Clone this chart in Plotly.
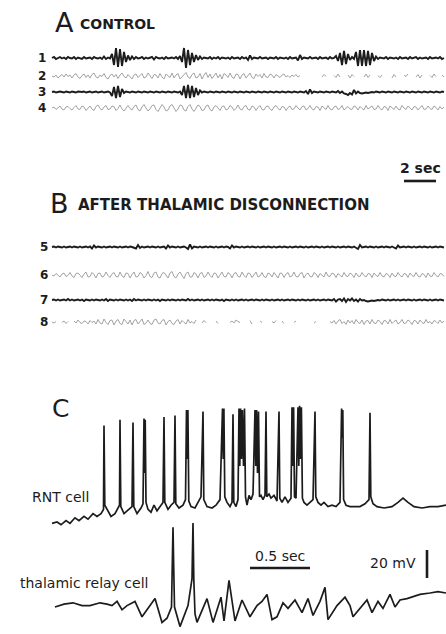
import plotly.graph_objects as go

# ---------------------------------------------------------------------------
# DATA
# ---------------------------------------------------------------------------
# Panels A and B: EEG channels, microvolts, sampled at FS_EEG
FS_EEG = 8.0

EEG_1 = [0, 10, -10, 0, 10, -5, 5, -10, 10, 0, -5, 10, -10, 5, 0, -10, 10, -5, 0, 5,
         -10, 10, 0, -5, 5, -10, 15, -10, 5, -5,
         40, -70, 100, -90, 90, -80, 60, -40, 25,
         -20, 15, -10, 10, -5, 0, 10, -10, 5, -5, 0, 10, -15, 10, 0, -5, 5, -10, 10, -5,
         0, 5, -5, 10, -10, 20,
         -40, 100, -100, 80, -70, 50, -40, 30,
         -20, 15, -10, 5, 0, -5, 10, -10, 5, -5, 10, -10, 5, 0, -5, 5, -10, 10, -5, 0,
         5, -10, 10, -5, 5, -20, 25, -10, 5, 0, -5, 10, -5, 0, 5, -10, 5, 0, -5, 10,
         -10, 5, 0, -5, 5, -10, 10, -5, 0, 5, -25, 30, -10, 5, 0, -5, 10, -5, 0, 5,
         -10, 10, -5, 0, 5, -10, 10, -5, 0, 20, -30,
         50, -70, 70, -60, 40, -20,
         10, -10,
         60, -80, 80, -80, 80, -80, 70, -70, 50, -30,
         15, -10, 5, 0, -5, 10, -10, 5, 0, -5, 5, -10, 10, -5, 0, 5, -10, 10, -5, 0,
         10, -10, 5, -5, 0, 5, -10, 10, -5, 0, 5, -5, 10, -10, 0]

EEG_2 = [0, -10, 10, -20, 0, 15, -10, 20, -5, 10,
         -20, 10, 25, -10, -25, 5, 20, -15, 10, -20,
         15, 30, -10, -20, 10, -5, 25, -15, -30, 5,
         20, -10, 15, -25, 10, 30, -5, -20, 15, -10,
         -30, 10, 20, -15, 5, 25, -20, -10, 30, -5,
         -25, 15, 10, -20, 25, -10, -30, 20, 5, -15,
         30, -20, 10, 25, -30, -5, 20, 35, -10, -25,
         15, 30, -20, -10, 25, -30, 10, 35, -15, 20,
         -25, 5, 30, -20, 15, -30, 25, 10, -15, 30,
         -10, -25, 20, 15, -30, 10, 25, -20, 5, 30,
         -15, -25, 20, -5, 15, -20, 25, -10, -15, 20,
         10, -20, 15, -5, -15, 10, 20, -10, 5, -15,
         10, -5, 15, -10, 5, None, None, None, None, None,
         None, None, None, None, None, -10, 15, -5, None, None,
         None, 5, -15, 20, -10, None, None, None, 10, -20,
         15, -5, None, None, None, None, -10, 20, -15, 10,
         None, None, None, 5, -15, 10, None, None, None, None,
         -20, 15, -10, None, None, None, 10, -5, 20, None,
         None, None, -10, 15, -20, 10, None, None, None, 5,
         -15, 20, -5, None, None, 10, -10]

EEG_3 = [0, 5, -5, 0, 5, 0, -5, 5, 0, -5, 5, 0, -5, 5, 0, 0, 5, -5, 0, 5,
         -5, 0, 5, -5, 0, 5, -5, 0, 5, -5,
         -40, 50, -60, 60, -50, 30,
         -10, 5, 0, -5, 5, 0, -5, 5, 0, -5, 5, 0, -5, 5, 0, -5, 5, 0, -5, 5,
         0, -5, 5, 0, -5, 5, 0, -5, 5,
         -30, 60, -60, 70, -60, 60, -50, 40, -30, 15,
         -5, 5, 0, -5, 5, 0, -5, 5, 0, -5,
         5, 0, -5, 5, 0, -5, 5, 0, -5, 5,
         0, -5, 5, 0, -5, 5, 0, -5, 5, 0,
         -5, 5, 0, -5, 5, 0, -5, 5, 0, -5,
         5, 0, -5, 5, 0, -5, 5, 0, -5, 5,
         0, -5, 10, -20, 25, -10, 5, 0, -5, 5,
         0, -5, 5, 0, -5, 5, 0, -5, 10, -10,
         5, -15, -20, -30, -10, -25, 20, -15, 5, -10,
         -15, -10, -5, -10, -5, 0, -5, 5, 0, -5,
         5, 0, -5, 5, 0, -5, 5, 0, -5, 5,
         0, -5, 5, 0, -5, 5, 0, -5, 5, 0,
         -5, 5, 0, -5, 5, 0, -5, 5, 0, -5,
         5, 0]

EEG_4 = [0, 10, -15, 5, 20, -10, -20, 10, 15, -5,
         -20, 5, 25, -10, -15, 20, 10, -25, 0, 20,
         -10, -25, 15, 30, -5, -20, 10, 25, -15, -10,
         20, 15, -25, -5, 30, -10, -30, 5, 25, -5,
         -20, 15, 30, -15, -30, 10, 35, 0, -30, -10,
         25, 30, -15, -35, 5, 35, 10, -30, -20, 20,
         35, -5, -35, -10, 30, 25, -20, -30, 15, 35,
         -10, -35, 5, 30, 15, -25, -20, 20, 30, -15,
         -30, 10, 25, -5, -25, 15, 20, -20, -10, 25,
         10, -25, -5, 30, -10, -20, 15, 25, -15, -20,
         20, 10, -25, 5, 25, -15, -20, 15, 20, -10,
         -25, 10, 25, -5, -20, 15, 10, -25, 5, 20,
         -15, -10, 25, 0, -20, 15, 20, -20, -5, 25,
         -10, -20, 15, 10, -25, 20, 5, -15, 25, -10,
         -20, 10, 20, -15, -5, 25, -20, 0, 15, -10,
         -15, 20, 10, -20, 15, -5, -20, 25, -10, 5,
         20, -15, -10, 25, -5, -20, 15, 10, -25, 20,
         5, -15, 20, -10, -20, 25, 0, -15, 20, -5,
         -20, 15, 10, -20, 5, 25, -15, -10, 20, -5,
         -15, 20, 5, -20, 15, -10, 10]

EEG_5 = [0, 5, -5, 5, 0, -5, 5, -5, 0, 5,
         -5, 5, 0, -5, 5, -5, 0, 5, -5, 5,
         -15, 15, -5, 5, 0, -5, 5, -5, 0, 5,
         -5, 5, 0, -5, 5, -5, 0, 5, -5, 5,
         0, -5, -15, 20, -10, 5, -5, 0, 5, -5,
         5, 0, -5, 5, -5, 0, 5, -15, 15, -5,
         5, 0, -5, 5, -5, 0, 5, -5, -20, 25,
         -15, 5, 0, -5, 5, -5, 0, 5, -5, 5,
         0, -5, 5, -5, 0, 5, -5, 5, 0, -15,
         15, -5, 5, 0, -5, 5, -5, 0, 5, -5,
         5, 0, -5, 5, -5, 0, 5, -5, 5, 0,
         -5, 5, -5, 0, 5, -5, 5, 0, -5, 5,
         -5, 0, 5, -5, 5, 0, -5, 5, -5, 0,
         5, -5, 5, 0, -5, 5, -5, 0, 5, -5,
         5, 0, -5, 5, -5, 0, 5, -5, 5, 0,
         -5, 5, -5, -20, 20, -5, 0, 5, -5, 5,
         0, -5, 5, -5, 0, 5, -5, 5, 0, -5,
         5, -5, -15, 15, -5, 0, 5, -5, 5, 0,
         -5, 5, -5, 0, 5, -5, 5, 0, -5, 5,
         -5, 0, 5, -5, 5, 0, -5]

EEG_6 = [0, -10, 15, -5, -20, 10, 20, -15, -5, 25,
         -10, -25, 15, 20, -5, -25, 10, 30, -20, -15,
         25, 5, -30, 15, 20, -20, -10, 30, -5, -25,
         10, 25, -15, -20, 30, -10, -25, 20, 15, -30,
         5, 30, -20, -15, 25, 10, -30, -5, 35, -15,
         -25, 20, 30, -20, -30, 15, 25, -10, -30, 20,
         35, -15, -30, 10, 30, -5, -35, 15, 30, -20,
         -20, 25, 10, -30, 15, 25, -25, -10, 30, -5,
         -25, 20, 15, -30, 5, 30, -15, -20, 25, 10,
         -30, 15, 25, -15, -20, 30, -5, -25, 20, 15,
         -25, 10, 30, -20, -10, 25, -15, -25, 20, 10,
         -20, 25, -5, -30, 20, 15, -25, 10, 25, -20,
         -10, 30, -15, -20, 15, 25, -30, 5, 20, -15,
         -20, 25, 10, -25, 15, -5, -20, 30, -10, -15,
         20, 10, -25, 15, -5, -20, 25, -10, -15, 20,
         5, -25, 20, -10, -15, 25, -5, -20, 15, 10,
         -25, 20, -5, -15, 25, -10, -20, 15, 5, -25,
         20, -10, -15, 25, -5, -20, 15, 10, -25, 20,
         -5, -15, 25, -10, -20, 15, 5, -25, 20, -10,
         -15, 25, -5, -20, 15, 10, -15]

EEG_7 = [0, 5, -5, 5, -5, 0, 5, -5, 10, -5,
         5, -5, 0, 5, -5, 5, -10, 5, 0, -5,
         5, -5, 5, 0, -5, 5, -5, 10, -10, 5,
         0, -5, 5, -5, 5, 0, -5, 5, -5, 5,
         -10, 10, -5, 5, 0, -5, 5, -5, 5, 0,
         -5, 5, -5, 5, -10, 5, 0, -5, 5, -5,
         5, 0, -5, 5, -5, 5, 0, -5, 10, -5,
         5, -5, 0, 5, -5, 5, -5, 0, 5, -5,
         5, -5, 5, 0, -5, 5, -10, 5, 0, -5,
         5, -5, 5, -5, 0, 5, -5, 5, -5, 0,
         5, -5, 5, 0, -5, 5, -5, 5, 0, -5,
         5, -5, 0, 5, -5, 5, -5, 0, 5, -5,
         5, 0, -5, 5, -5, 5, 0, -5, 5, -5,
         0, 5, -5, 5, -5, 0, 5, -5, 5, 0,
         -5, 10, -15, 5, 10, -10, 15, -20, 10, -5,
         15, -10, 5, -15, 10, -5, 0, -10, -15, -10,
         -5, -10, -5, 0, -5, 5, 0, -5, 5, -5,
         0, 5, -5, 5, -5, 0, 5, -5, 5, 0,
         -5, 5, -5, 0, 5, -5, 5, 0, -5, 5,
         -5, 0, 5, -5, 5, 0, -5]

EEG_8 = [0, -10, 5, None, None, -5, 10, -15, 5, None,
         None, 10, -10, 20, -5, -15, 10, 5, -20, 15,
         -5, 10, -20, 25, -10, -20, 30, -5, -25, 15,
         20, -30, 10, 25, -15, -25, 30, 5, -20, 20,
         -30, 15, 25, -20, 10, 30, -25, -10, 20, -15,
         -25, 20, 30, -10, -20, 15, 25, -30, 5, 20,
         -15, -25, 10, 25, -20, 15, -5, -20, 25, -10,
         5, -15, 20, None, None, -10, 15, -5, None, None,
         None, None, 10, -15, None, None, None, None, None, -5,
         10, -10, 20, 5, -5, None, None, None, None, 15,
         -20, None, None, None, 10, -5, None, None, None, None,
         5, -10, 15, None, None, 10, -15, None, None, None,
         None, -5, 10, None, None, None, None, None, None, None,
         None, -10, 5, None, None, None, None, None, None, 5,
         -10, 15, -20, 10, 25, -15, 5, -25, 20, -10,
         15, -20, 25, -5, -15, 20, -25, 10, 15, -20,
         25, -10, -15, 20, 5, -25, 15, 10, -20, 25,
         -15, 5, 20, -20, -5, 25, -15, -10, 20, 5,
         -25, 15, 10, -20, 20, -5, -15, 25, -10, 5,
         -20, 15, 5, -15, 20, -10, 10]

CHANNEL_LABELS = ["1", "2", "3", "4", "5", "6", "7", "8"]
CHANNEL_DATA = [EEG_1, EEG_2, EEG_3, EEG_4, EEG_5, EEG_6, EEG_7, EEG_8]
CHANNEL_KIND = ["dark", "gray", "dark", "gray", "dark", "gray", "dark", "gray"]

# Panel C: intracellular recordings, digitised at FS_CELL samples / s
FS_CELL = 120.0

RNT_SAMPLE = [0, 5, 9, 14, 18, 23, 27, 32, 36, 41, 45, 49, 51.5,
              52, 52.8, 55, 59, 63, 66, 67.5,
              68, 68.8, 72, 77, 80,
              81, 81.8, 85, 89, 91,
              92, 92.6, 93.2, 94, 96, 99, 102, 105, 108, 111,
              112, 112.8, 116, 119, 122,
              123, 123.8, 127, 131, 133.5,
              134.5, 135.2, 135.9, 136.8, 139, 143, 146, 149,
              151, 151.8, 155, 160, 164, 168,
              170.5, 171.2, 171.9, 172.8, 175, 178, 180,
              181, 181.8, 184, 186,
              187, 187.8, 188.6, 189.5, 190.4, 191.5, 192.5, 193.5,
              195, 197, 199, 201,
              203, 203.8, 204.6, 205.5, 206.5, 207.5,
              209, 211, 213,
              214, 214.8, 217, 219, 222, 225,
              227, 227.8, 230, 233, 236, 239,
              240, 240.8, 241.6, 242.5, 244,
              246, 246.8, 247.6, 248.5, 249.4, 250.4,
              252, 255, 258, 261,
              263, 263.8, 266, 269, 272, 276, 280, 284, 288,
              289.6, 290.2, 290.8, 291.6, 294, 298, 303, 308, 313, 317,
              318, 318.8, 321, 325, 332, 340, 346, 351, 356, 362, 370, 378, 386, 394]

RNT_MV = [-81, -80, -82, -79, -81, -77, -79, -76, -78, -74, -76, -74, -71,
          -11, -68, -71, -76, -74, -70, -68,
          -7, -69, -74, -71, -69,
          -9, -69, -74, -70, -67,
          -6, -45, -7, -66, -71, -73, -68, -72, -69, -66,
          -5, -66, -71, -68, -66,
          -4, -67, -70, -68, -64,
          0, -35, 0, -65, -69, -70, -66, -62,
          -1, -64, -69, -70, -68, -64,
          1, -35, 1, -62, -66, -69, -66,
          -3, -66, -69, -64,
          1, -40, 1, -35, 0, -40, 1, -62,
          -68, -61, -64, -60,
          0, -40, 0, -45, -1, -62,
          -61, -64, -61,
          -1, -62, -60, -63, -61, -65,
          -1, -63, -66, -62, -66, -63,
          2, -40, 2, -62, -63,
          2, -40, 3, -35, 2, -63,
          -66, -68, -66, -64,
          -1, -62, -66, -68, -66, -69, -68, -69, -66,
          1, -20, 0, -64, -68, -69, -69, -69, -67, -64,
          -2, -62, -67, -69, -70, -69, -66, -63, -66, -69, -70, -69, -69, -68]

RELAY_SAMPLE = [3, 12, 21, 30, 38, 48, 55, 60, 65, 70, 75, 83, 90, 103, 110, 115,
                119.5, 120.5, 121, 121.8, 122.5, 128, 133, 136, 140, 141, 141.8, 143,
                145, 151, 155, 161, 169, 172, 177, 183, 190, 198, 205, 210, 215, 220,
                225, 231, 236, 243, 250, 256, 261, 268, 273, 276, 285, 293, 298, 301,
                310, 315, 320, 326, 331, 338, 343, 348, 355, 360, 368, 378, 386, 394]

RELAY_MV = [-70, -68, -67, -69, -69, -67, -68, -69, -66, -72, -69, -66, -77, -64, -81, -78,
            -70, -40, -13, -45, -70, -84, -75, -69, -50, -10, -50, -75,
            -81, -71, -64, -81, -63, -80, -51, -80, -65, -77, -69, -66, -61, -79,
            -77, -67, -71, -65, -74, -64, -76, -66, -56, -79, -69, -63, -69, -77,
            -69, -65, -74, -66, -71, -61, -70, -65, -64, -63, -61, -60, -59, -60]

SCALE_EEG_SEC = 2.0
SCALE_CELL_SEC = 0.5
SCALE_CELL_MV = 20.0

# ---------------------------------------------------------------------------
# LAYOUT CONSTANTS (page pixels)
# ---------------------------------------------------------------------------
W, H = 446, 634
X0 = 52                      # left edge of every trace
EEG_PX_PER_S = 16.0
CELL_PX_PER_S = 120.0
UV_PER_PX = 10.0
PX_PER_MV = 1.4
ROW_Y = [58, 76, 92, 108, 247, 275, 300, 322]
RNT_ANCHOR = (522, -80)      # page y of a reference potential
RELAY_ANCHOR = (607, -70)

INK = "#1c1c1c"
GRAY = "#a2a2a2"
FONT = "DejaVu Sans"


def px(x):
    return x / W


def py(y):
    return 1 - y / H


fig = go.Figure()

# EEG traces (panels A, B)
for label, vals, kind, row in zip(CHANNEL_LABELS, CHANNEL_DATA, CHANNEL_KIND, ROW_Y):
    t = [i / FS_EEG for i in range(len(vals))]
    y = [None if v is None else row - v / UV_PER_PX for v in vals]
    fig.add_trace(go.Scatter(
        x=t, y=y, mode="lines", xaxis="x", yaxis="y",
        line=dict(color=INK if kind == "dark" else GRAY,
                  width=1.9 if kind == "dark" else 1.0),
        hoverinfo="skip", showlegend=False, connectgaps=False))


# Intracellular traces (panel C)
def mv_to_page(vals, anchor):
    y0, v0 = anchor
    return [y0 - (v - v0) * PX_PER_MV for v in vals]


fig.add_trace(go.Scatter(
    x=[s / FS_CELL for s in RNT_SAMPLE], y=mv_to_page(RNT_MV, RNT_ANCHOR),
    mode="lines", xaxis="x2", yaxis="y",
    line=dict(color=INK, width=1.7), hoverinfo="skip", showlegend=False))
fig.add_trace(go.Scatter(
    x=[s / FS_CELL for s in RELAY_SAMPLE], y=mv_to_page(RELAY_MV, RELAY_ANCHOR),
    mode="lines", xaxis="x2", yaxis="y",
    line=dict(color=INK, width=1.7), hoverinfo="skip", showlegend=False))

# Scale bars
eeg_bar_end = 24.0
fig.add_trace(go.Scatter(
    x=[eeg_bar_end - SCALE_EEG_SEC, eeg_bar_end], y=[181, 181], mode="lines",
    xaxis="x", yaxis="y", line=dict(color=INK, width=2.6),
    hoverinfo="skip", showlegend=False))
cell_bar_start = (250 - X0) / CELL_PX_PER_S
fig.add_trace(go.Scatter(
    x=[cell_bar_start, cell_bar_start + SCALE_CELL_SEC], y=[568, 568], mode="lines",
    xaxis="x2", yaxis="y", line=dict(color=INK, width=2.4),
    hoverinfo="skip", showlegend=False))
mv_bar_t = (427 - X0) / CELL_PX_PER_S
fig.add_trace(go.Scatter(
    x=[mv_bar_t, mv_bar_t], y=[578, 578 - SCALE_CELL_MV * PX_PER_MV], mode="lines",
    xaxis="x2", yaxis="y", line=dict(color=INK, width=2.6),
    hoverinfo="skip", showlegend=False))

# Text
ann = []


def text(s, x, y, size, xanchor="left", bold=False, color=INK):
    ann.append(dict(text=s, x=px(x), y=py(y), xref="paper", yref="paper",
                    xanchor=xanchor, yanchor="middle", showarrow=False,
                    font=dict(family=FONT, size=size, color=color,
                              weight="bold" if bold else "normal")))


text("A", 53, 23, 27)
text("CONTROL", 78, 24, 14, bold=True)
text("B", 48, 203, 27)
text("AFTER THALAMIC DISCONNECTION", 76, 205, 15, bold=True)
text("C", 50, 408, 25)

for i, (label, row) in enumerate(zip(CHANNEL_LABELS, ROW_Y)):
    text(label, 42 if i < 4 else 44, row, 12, xanchor="center", bold=True)

text("2 sec", 420, 168, 14, xanchor="center", bold=True)
text("RNT cell", 60, 497, 14, xanchor="center")
text("thalamic relay cell", 84, 583, 14, xanchor="center")
text("0.5 sec", 280, 556, 14, xanchor="center")
text("20 mV", 393, 563, 14, xanchor="center")

fig.update_layout(
    width=W, height=H, margin=dict(l=0, r=0, t=0, b=0),
    paper_bgcolor="white", plot_bgcolor="white",
    annotations=ann,
    xaxis=dict(domain=[0, 1], range=[-X0 / EEG_PX_PER_S, (W - X0) / EEG_PX_PER_S],
               visible=False, showgrid=False, zeroline=False),
    xaxis2=dict(domain=[0, 1], overlaying="x",
                range=[-X0 / CELL_PX_PER_S, (W - X0) / CELL_PX_PER_S],
                visible=False, showgrid=False, zeroline=False),
    yaxis=dict(domain=[0, 1], range=[H, 0], visible=False,
               showgrid=False, zeroline=False),
)

fig.write_html(
    "out.html",
    config={"displayModeBar": False},
    post_script="document.body.style.margin='0';document.body.style.overflow='hidden';",
)
